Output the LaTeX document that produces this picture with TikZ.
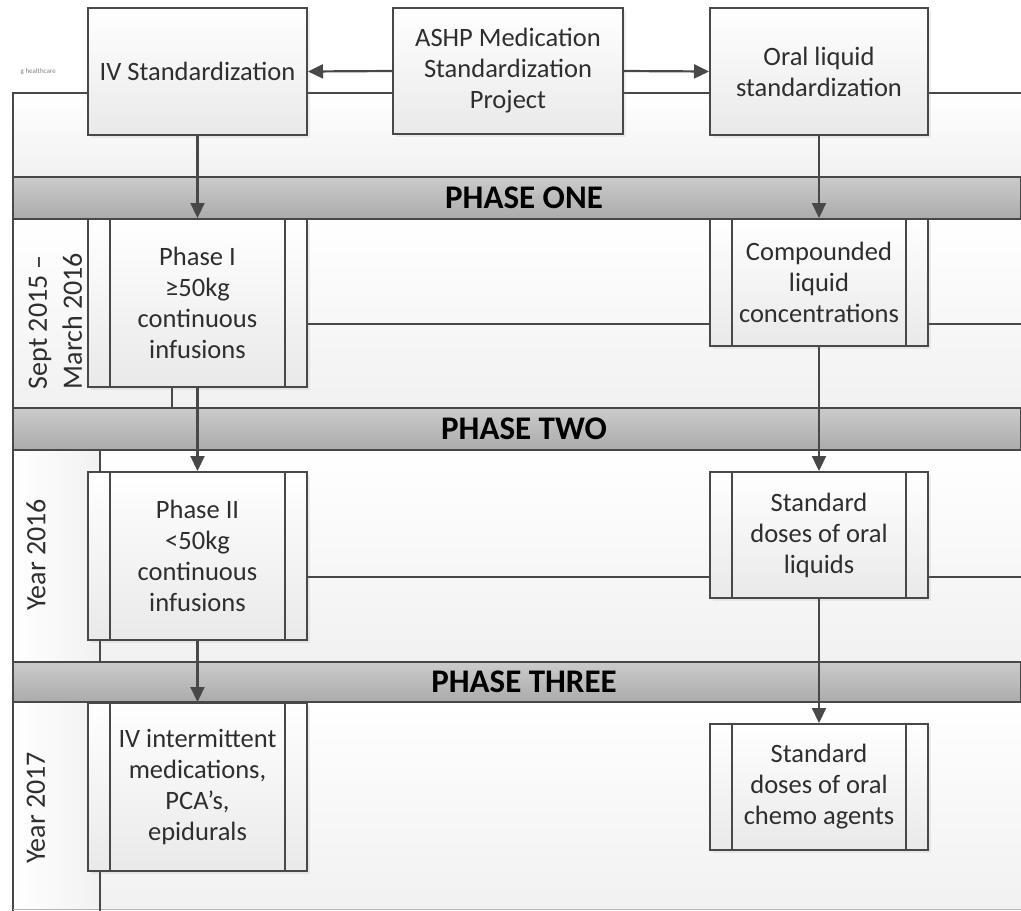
\documentclass[tikz,border=0pt]{standalone}
\usepackage{fontspec}
\setmainfont{Carlito}
\usetikzlibrary{arrows.meta,shadows}
\definecolor{lc}{HTML}{484848}
\definecolor{tc}{HTML}{2E2E2E}
\definecolor{boxbot}{HTML}{E9E9E9}
\definecolor{bartop}{HTML}{CBCBCB}
\definecolor{barbot}{HTML}{ABABAB}
\definecolor{secbot}{HTML}{F1F1F1}
\tikzset{
  boxfont/.style={font=\fontsize{26.5}{31}\selectfont, text=tc},
  sbox/.style={draw=lc, line width=2pt, top color=white, bottom color=boxbot,
    align=center, inner sep=0pt, boxfont,
    drop shadow={shadow xshift=3pt, shadow yshift=-3pt, opacity=0.12}},
  pbox/.style={sbox, path picture={
      \draw[lc, line width=2pt]
        ([xshift=22pt]path picture bounding box.north west) -- ([xshift=22pt]path picture bounding box.south west)
        ([xshift=-22pt]path picture bounding box.north east) -- ([xshift=-22pt]path picture bounding box.south east);}},
  bar/.style={draw=lc, line width=2pt, top color=bartop, bottom color=barbot},
  sec/.style={top color=white, bottom color=secbot},
  lane/.style={draw=lc, line width=2pt},
  bartext/.style={font=\fontsize{33}{38}\bfseries\selectfont, text=black},
  lanetext/.style={rotate=90, font=\fontsize{28}{35}\selectfont, text=tc, align=left, inner sep=0pt},
  arr/.style={draw=lc, line width=2.2pt, -{Triangle[length=15pt,width=14pt]}},
}
\begin{document}
\begin{tikzpicture}[x=1pt,y=-1pt]
\useasboundingbox (0,0) rectangle (1021,911);
\fill[white] (0,0) rectangle (1021,911);
% sections
\shade[sec] (13,93) rectangle (1021,177);
\shade[sec] (13,219) rectangle (1021,408);
\shade[sec] (13,450) rectangle (1021,662);
\shade[sec] (13,702) rectangle (1021,909);
% label column tint
\shade[left color=white, right color=secbot] (13,450) rectangle (100,662);
\shade[left color=white, right color=secbot] (13,702) rectangle (100,909);
% lanes
\draw[lane] (13,911) -- (13,93) -- (1021,93);
\draw[lc!40, line width=1pt] (13,909) -- (1021,909);
\draw[lane] (172,219) -- (172,408);
\draw[lane] (100,450) -- (100,662);
\draw[lane] (100,702) -- (100,911);
\draw[lane] (172,324) -- (1021,324);
\draw[lane] (100,577) -- (1021,577);
% phase bars
\shade[bar] (13,177) rectangle (1021,219);
\shade[bar] (13,408) rectangle (1021,450);
\shade[bar] (13,662) rectangle (1021,702);
\node[bartext] (p1) at (524,198) {PHASE ONE};
\node[bartext] (p2) at (524,429) {PHASE TWO};
\node[bartext] (p3) at (524,682) {PHASE THREE};
% lane labels
\node[lanetext] (l1) at (55.5,321) {Sept 2015 –\\March 2016};
\node[lanetext] (l2) at (36,555) {Year 2016};
\node[lanetext] (l3) at (36,808) {Year 2017};
% top label
\node[anchor=east, font=\fontsize{7}{8}\selectfont, text=gray, inner sep=0pt] (hc) at (56,72) {g healthcare};
% boxes
\node[sbox, minimum width=219pt, minimum height=127pt] (iv) at (197.5,71.5) {IV Standardization};
\node[sbox, minimum width=230pt, minimum height=126pt] (ashp) at (508,71) {ASHP Medication\\Standardization\\Project};
\node[sbox, minimum width=218pt, minimum height=127pt] (oral) at (819,71.5) {Oral liquid\\standardization};
\node[pbox, minimum width=219pt, minimum height=168pt] (ph1) at (197.5,303) {Phase I\\≥50kg\\continuous\\infusions};
\node[pbox, minimum width=218pt, minimum height=127pt] (comp) at (819,282.5) {Compounded\\liquid\\concentrations};
\node[pbox, minimum width=219pt, minimum height=168pt] (ph2) at (197.5,556) {Phase II\\<50kg\\continuous\\infusions};
\node[pbox, minimum width=218pt, minimum height=126pt] (std) at (819,535) {Standard\\doses of oral\\liquids};
\node[pbox, minimum width=219pt, minimum height=168pt] (ivi) at (197.5,787) {IV intermittent\\medications,\\PCA’s,\\epidurals};
\node[pbox, minimum width=218pt, minimum height=126pt] (chemo) at (819,787) {Standard\\doses of oral\\chemo agents};
% connectors
\draw[arr] (ashp.west) -- (iv.east);
\draw[arr] (ashp.east) -- (oral.west);
\draw[arr] (iv.south) -- (ph1.north);
\draw[arr] (oral.south) -- (comp.north);
\draw[arr] (ph1.south) -- (ph2.north);
\draw[arr] (comp.south) -- (std.north);
\draw[arr] (ph2.south) -- (ivi.north);
\draw[arr] (std.south) -- (chemo.north);
\end{tikzpicture}
\end{document}
